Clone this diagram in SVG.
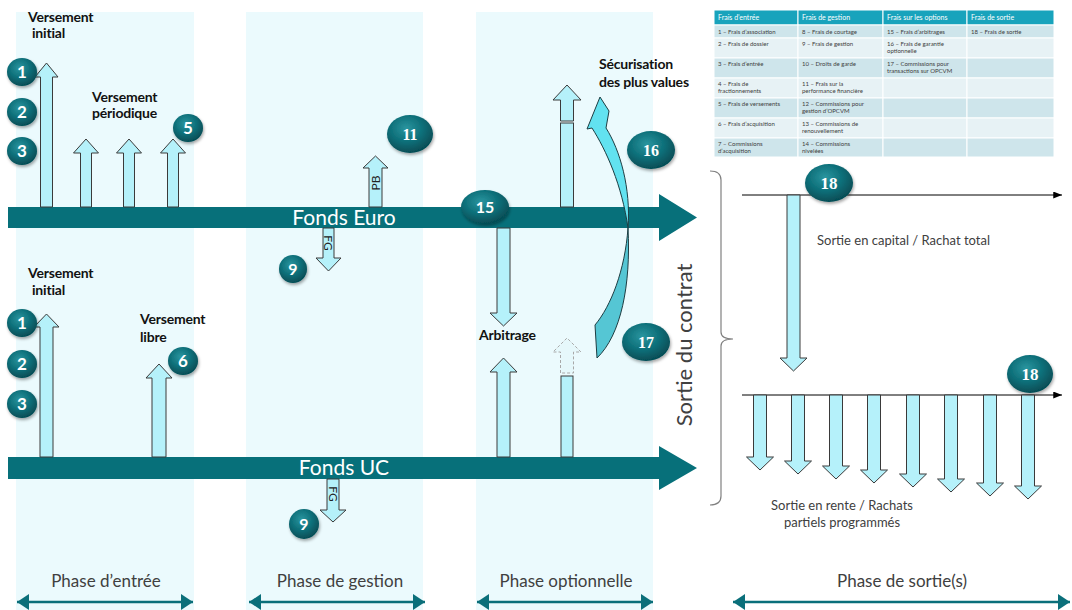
<svg xmlns="http://www.w3.org/2000/svg" width="1072" height="610" viewBox="0 0 1072 610">
<defs>
<radialGradient id="cg" cx="42%" cy="35%" r="70%">
<stop offset="0" stop-color="#2A959F"/>
<stop offset="0.55" stop-color="#0B6C76"/>
<stop offset="1" stop-color="#05474F"/>
</radialGradient>
<filter id="sh" x="-30%" y="-30%" width="160%" height="170%">
<feDropShadow dx="1" dy="2" stdDeviation="1.5" flood-color="#000" flood-opacity="0.35"/>
</filter>
<marker id="ah" viewBox="0 0 10 8" refX="10" refY="4" markerWidth="9" markerHeight="7" markerUnits="userSpaceOnUse" orient="auto">
<path d="M0 0 L10 4 L0 8 Z" fill="#000"/>
</marker>
<marker id="dh" viewBox="0 0 12 16" refX="12" refY="8" markerWidth="12" markerHeight="16" markerUnits="userSpaceOnUse" orient="auto-start-reverse">
<path d="M0 0 L12 8 L0 16 Z" fill="#0A6F7A"/>
</marker>
</defs>
<style>
.panel{fill:#EBFAFD}
.bar{fill:#07707A}
.ar{fill:#B5F1FA;stroke:#3a3a3a;stroke-width:1}
.ghost{fill:#E6F8FB;stroke:#A8A8A8;stroke-width:1;stroke-dasharray:3 2}
.circ{fill:url(#cg);filter:url(#sh)}
.num{font-family:Lato,"Liberation Sans",sans-serif;font-weight:bold;fill:#fff;text-anchor:middle}
.nums{font-family:"Liberation Serif","DejaVu Serif",serif;font-weight:bold;fill:#fff;text-anchor:middle}
.lbl{font-family:Lato,"Liberation Sans",sans-serif;font-weight:bold;font-size:14px;fill:#111;letter-spacing:-0.2px}
.fund{font-family:Lato,"Liberation Sans",sans-serif;font-size:21px;fill:#fff;text-anchor:middle}
.phase{font-family:Lato,"Liberation Sans",sans-serif;font-size:17px;fill:#404040;text-anchor:middle}
.txt{font-family:Lato,"Liberation Sans",sans-serif;font-size:13px;fill:#404040}
.small{font-family:Lato,"Liberation Sans",sans-serif;font-size:12px;fill:#222;text-anchor:middle}
.th{fill:#18A3BC;stroke:#fff;stroke-width:1}
.td1{fill:#CEE5EB;stroke:#fff;stroke-width:1}
.td2{fill:#E7F2F5;stroke:#fff;stroke-width:1}
.tht{font-family:Lato,"Liberation Sans",sans-serif;font-size:7px;fill:#fff}
.tdt{font-family:Lato,"Liberation Sans",sans-serif;font-size:6px;fill:#404040}
.dbl{stroke:#0A6F7A;stroke-width:2.5;fill:none}
.tl{stroke:#000;stroke-width:1;fill:none}
</style>
<rect width="1072" height="610" fill="#fff"/>

<g id="panels">
<rect class="panel" x="16" y="12" width="178" height="598"/>
<rect class="panel" x="246" y="12" width="177" height="598"/>
<rect class="panel" x="476" y="12" width="177" height="598"/>
</g>

<g id="table">
<rect class="th" x="714" y="10" width="84" height="15"/>
<rect class="th" x="798" y="10" width="85" height="15"/>
<rect class="th" x="883" y="10" width="84" height="15"/>
<rect class="th" x="967" y="10" width="87" height="15"/>
<text class="tht" x="718" y="20">Frais d’entrée</text>
<text class="tht" x="802" y="20">Frais de gestion</text>
<text class="tht" x="887" y="20">Frais sur les options</text>
<text class="tht" x="971" y="20">Frais de sortie</text>
<g>
<rect class="td1" x="714" y="25" width="84" height="13"/><rect class="td1" x="798" y="25" width="85" height="13"/><rect class="td1" x="883" y="25" width="84" height="13"/><rect class="td1" x="967" y="25" width="87" height="13"/>
<rect class="td2" x="714" y="38" width="84" height="20"/><rect class="td2" x="798" y="38" width="85" height="20"/><rect class="td2" x="883" y="38" width="84" height="20"/><rect class="td2" x="967" y="38" width="87" height="20"/>
<rect class="td1" x="714" y="58" width="84" height="20"/><rect class="td1" x="798" y="58" width="85" height="20"/><rect class="td1" x="883" y="58" width="84" height="20"/><rect class="td1" x="967" y="58" width="87" height="20"/>
<rect class="td2" x="714" y="78" width="84" height="20"/><rect class="td2" x="798" y="78" width="85" height="20"/><rect class="td2" x="883" y="78" width="84" height="20"/><rect class="td2" x="967" y="78" width="87" height="20"/>
<rect class="td1" x="714" y="98" width="84" height="20"/><rect class="td1" x="798" y="98" width="85" height="20"/><rect class="td1" x="883" y="98" width="84" height="20"/><rect class="td1" x="967" y="98" width="87" height="20"/>
<rect class="td2" x="714" y="118" width="84" height="20"/><rect class="td2" x="798" y="118" width="85" height="20"/><rect class="td2" x="883" y="118" width="84" height="20"/><rect class="td2" x="967" y="118" width="87" height="20"/>
<rect class="td1" x="714" y="138" width="84" height="19"/><rect class="td1" x="798" y="138" width="85" height="19"/><rect class="td1" x="883" y="138" width="84" height="19"/><rect class="td1" x="967" y="138" width="87" height="19"/>
</g>
<text class="tdt" x="718" y="34">1 – Frais d’association</text>
<text class="tdt" x="718" y="46">2 – Frais de dossier</text>
<text class="tdt" x="718" y="66">3 – Frais d’entrée</text>
<text class="tdt" x="718" y="86">4 – Frais de</text>
<text class="tdt" x="718" y="93">fractionnements</text>
<text class="tdt" x="718" y="106">5 – Frais de versements</text>
<text class="tdt" x="718" y="126">6 – Frais d’acquisition</text>
<text class="tdt" x="718" y="146">7 – Commissions</text>
<text class="tdt" x="718" y="153">d’acquisition</text>
<text class="tdt" x="802" y="34">8 – Frais de courtage</text>
<text class="tdt" x="802" y="46">9 – Frais de gestion</text>
<text class="tdt" x="802" y="66">10 – Droits de garde</text>
<text class="tdt" x="802" y="86">11 – Frais sur la</text>
<text class="tdt" x="802" y="93">performance financière</text>
<text class="tdt" x="802" y="106">12 – Commissions pour</text>
<text class="tdt" x="802" y="113">gestion d’OPCVM</text>
<text class="tdt" x="802" y="126">13 – Commissions de</text>
<text class="tdt" x="802" y="133">renouvellement</text>
<text class="tdt" x="802" y="146">14 – Commissions</text>
<text class="tdt" x="802" y="153">nivelées</text>
<text class="tdt" x="887" y="34">15 – Frais d’arbitrages</text>
<text class="tdt" x="887" y="46">16 – Frais de garantie</text>
<text class="tdt" x="887" y="53">optionnelle</text>
<text class="tdt" x="887" y="66">17 – Commissions pour</text>
<text class="tdt" x="887" y="73">transactions sur OPCVM</text>
<text class="tdt" x="971" y="34">18 – Frais de sortie</text>
</g>

<g id="fonds-euro">
<path class="bar" d="M8 207 H659 V194 L697 217.5 L659 241 V228 H8 Z"/>
<text class="fund" x="344" y="225">Fonds Euro</text>
</g>
<g id="fonds-uc">
<path class="bar" d="M8 457 H659 V446 L697 468 L659 490 V479 H8 Z"/>
<text class="fund" x="344" y="475">Fonds UC</text>
</g>

<g id="connectors">
<polygon class="ar" points="40.5,207 40.5,77 35,77 46.5,63 58,77 52.5,77 52.5,207"/>
<polygon class="ar" points="80.5,207 80.5,153 73.5,153 86,139 98.5,153 91.5,153 91.5,207"/>
<polygon class="ar" points="123.5,207 123.5,153 116.5,153 129,139 141.5,153 134.5,153 134.5,207"/>
<polygon class="ar" points="167.5,207 167.5,153 160.5,153 173,139 185.5,153 178.5,153 178.5,207"/>
<polygon class="ar" points="40,457 40,327 34,327 46.5,314 59,327 53,327 53,457"/>
<polygon class="ar" points="152,457 152,378 146,378 159,364 172,378 166,378 166,457"/>
<g id="pb">
<polygon class="ar" points="369,207 369,168 363,168 375.5,156 388,168 382,168 382,207"/>
<text class="small" transform="translate(380,183) rotate(-90)">PB</text>
</g>
<g id="fg1">
<polygon class="ar" points="323,228 323,258 316,258 328.5,271 341,258 334,258 334,228"/>
<text class="small" transform="translate(324,243) rotate(90)">FG</text>
</g>
<g id="fg2">
<polygon class="ar" points="327,479 327,510 320,510 333,522 346,510 339,510 339,479"/>
<text class="small" transform="translate(329,494) rotate(90)">FG</text>
</g>
<polygon class="ar" points="560.5,121 560.5,100 553,100 567,85 581,100 573.5,100 573.5,121"/>
<rect class="ar" x="560.5" y="123" width="13" height="84"/>
<polygon class="ar" points="497,228 497,313 490,313 503.5,326 517,313 510,313 510,228"/>
<polygon class="ar" points="497,457 497,372 490,372 503.5,358 517,372 510,372 510,457"/>
<polygon class="ghost" points="560.5,373 560.5,352 553,352 567,338 581,352 573.5,352 573.5,373"/>
<rect class="ar" x="561" y="376" width="12" height="81"/>
<g id="curved">
<path d="M595 325 C611 306, 625 270, 628 228 C631 285, 621 335, 597 358 Z" fill="#55C6D4" stroke="#1d3d42" stroke-width="1"/>
<path d="M600 97 L587 129 L592 128 C606 150, 622 185, 628 228 C631 188, 620 150, 606 128 L609 111 Z" fill="#62E2F0" stroke="#1d3d42" stroke-width="1"/>
</g>
<path d="M710 171 Q721 171 721 180 V332 Q721 339 733 339 Q721 339 721 346 V496 Q721 505 710 505" fill="none" stroke="#808080" stroke-width="1.2"/>
<line class="tl" x1="742" y1="195" x2="1062" y2="195" marker-end="url(#ah)"/>
<line class="tl" x1="742" y1="395" x2="1062" y2="395" marker-end="url(#ah)"/>
<polygon class="ar" points="787,195 787,358 780,358 793.5,371 807,358 800,358 800,195"/>
<polygon class="ar" points="753.5,395 753.5,457 746.5,457 760,470 773.5,457 766.5,457 766.5,395"/>
<polygon class="ar" points="791.5,395 791.5,461 784.5,461 798,474 811.5,461 804.5,461 804.5,395"/>
<polygon class="ar" points="829.5,395 829.5,466 822.5,466 836,479 849.5,466 842.5,466 842.5,395"/>
<polygon class="ar" points="867.5,395 867.5,470 860.5,470 874,483 887.5,470 880.5,470 880.5,395"/>
<polygon class="ar" points="906.5,395 906.5,474 899.5,474 913,487 926.5,474 919.5,474 919.5,395"/>
<polygon class="ar" points="944.5,395 944.5,479 937.5,479 951,492 964.5,479 957.5,479 957.5,395"/>
<polygon class="ar" points="983.5,395 983.5,483 976.5,483 990,496 1003.5,483 996.5,483 996.5,395"/>
<polygon class="ar" points="1021.5,395 1021.5,486 1014.5,486 1028,499 1041.5,486 1034.5,486 1034.5,395"/>
<line class="dbl" x1="17" y1="602" x2="193" y2="602" marker-start="url(#dh)" marker-end="url(#dh)"/>
<line class="dbl" x1="249" y1="602" x2="425" y2="602" marker-start="url(#dh)" marker-end="url(#dh)"/>
<line class="dbl" x1="477" y1="602" x2="653" y2="602" marker-start="url(#dh)" marker-end="url(#dh)"/>
<line class="dbl" x1="733" y1="602" x2="1070" y2="602" marker-start="url(#dh)" marker-end="url(#dh)"/>
</g>

<g id="labels">
<text class="lbl" x="28" y="22">Versement</text>
<text class="lbl" x="32" y="38">initial</text>
<text class="lbl" x="92" y="102">Versement</text>
<text class="lbl" x="92" y="118">périodique</text>
<text class="lbl" x="28" y="278">Versement</text>
<text class="lbl" x="32" y="295">initial</text>
<text class="lbl" x="140" y="324">Versement</text>
<text class="lbl" x="140" y="342">libre</text>
<text class="lbl" x="599" y="69">Sécurisation</text>
<text class="lbl" x="599" y="87">des plus values</text>
<text class="lbl" x="479" y="340">Arbitrage</text>
<text class="txt" x="817" y="245">Sortie en capital / Rachat total</text>
<text class="txt" x="842" y="510" text-anchor="middle">Sortie en rente / Rachats</text>
<text class="txt" x="842" y="527" text-anchor="middle">partiels programmés</text>
<text font-family="Lato,'Liberation Sans',sans-serif" font-size="22" fill="#404040" text-anchor="middle" transform="translate(692,345) rotate(-90)">Sortie du contrat</text>
<text class="phase" x="106" y="587">Phase d’entrée</text>
<text class="phase" x="340" y="587">Phase de gestion</text>
<text class="phase" x="566" y="587">Phase optionnelle</text>
<text class="phase" x="902" y="587">Phase de sortie(s)</text>
</g>

<g id="n1a"><ellipse class="circ" cx="22" cy="72" rx="15" ry="14"/><text class="num" x="22" y="78" font-size="17">1</text></g>
<g id="n2a"><ellipse class="circ" cx="22" cy="112" rx="15" ry="14"/><text class="num" x="22" y="118" font-size="17">2</text></g>
<g id="n3a"><ellipse class="circ" cx="22" cy="151" rx="15" ry="14"/><text class="num" x="22" y="157" font-size="17">3</text></g>
<g id="n5"><ellipse class="circ" cx="188" cy="128" rx="15" ry="14"/><text class="num" x="188" y="134" font-size="17">5</text></g>
<g id="n11"><ellipse class="circ" cx="410" cy="134" rx="23" ry="19"/><text class="nums" x="410" y="140" font-size="16">11</text></g>
<g id="n9a"><ellipse class="circ" cx="293" cy="269" rx="14" ry="14"/><text class="num" x="293" y="275" font-size="16">9</text></g>
<g id="n15"><ellipse class="circ" cx="485" cy="207" rx="24" ry="17"/><text class="num" x="485" y="213" font-size="16">15</text></g>
<g id="n16"><ellipse class="circ" cx="651" cy="150" rx="24" ry="19"/><text class="nums" x="651" y="156" font-size="16">16</text></g>
<g id="n17"><ellipse class="circ" cx="646" cy="342" rx="24" ry="19"/><text class="nums" x="646" y="348" font-size="16">17</text></g>
<g id="n1b"><ellipse class="circ" cx="22" cy="323" rx="15" ry="14"/><text class="num" x="22" y="329" font-size="17">1</text></g>
<g id="n2b"><ellipse class="circ" cx="22" cy="364" rx="15" ry="14"/><text class="num" x="22" y="370" font-size="17">2</text></g>
<g id="n3b"><ellipse class="circ" cx="22" cy="404" rx="15" ry="14"/><text class="num" x="22" y="410" font-size="17">3</text></g>
<g id="n6"><ellipse class="circ" cx="183" cy="361" rx="15" ry="14"/><text class="num" x="183" y="367" font-size="17">6</text></g>
<g id="n9b"><ellipse class="circ" cx="304" cy="524" rx="15" ry="15"/><text class="num" x="304" y="530" font-size="16">9</text></g>
<g id="n18a"><ellipse class="circ" cx="829" cy="183" rx="24" ry="19"/><text class="nums" x="829" y="189" font-size="17">18</text></g>
<g id="n18b"><ellipse class="circ" cx="1030" cy="374" rx="23" ry="19"/><text class="nums" x="1030" y="380" font-size="17">18</text></g>
</svg>
